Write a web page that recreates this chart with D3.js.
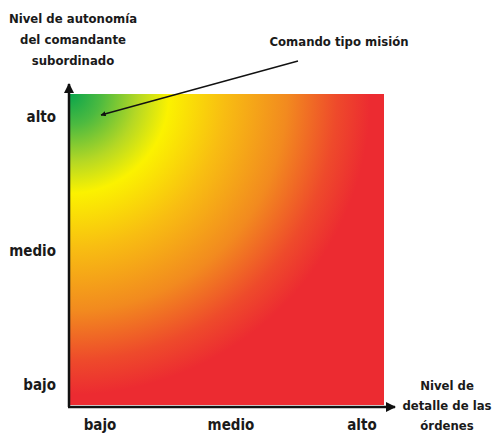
<!DOCTYPE html>
<html>
<head>
<meta charset="utf-8">
<script src="https://cdn.jsdelivr.net/npm/d3@7"></script>
<style>
  body { margin: 0; background: #fff; }
  text { font-family: "DejaVu Sans Condensed", "Liberation Sans Narrow", sans-serif; font-weight: bold; fill: #1a1a1a; }
</style>
</head>
<body>
<div id="chart"></div>
<script>
const xLevels = ["bajo", "medio", "alto"];
const yLevels = ["bajo", "medio", "alto"];
const yTitle = ["Nivel de autonomía", "del comandante", "subordinado"];
const xTitle = ["Nivel de", "detalle de las", "órdenes"];
const annotation = "Comando tipo misión";
// gradient colour stops, from the top-left corner outward
const gradStops = [
  { offset: 0, color: "#0aa54c" },
  { offset: 0.1, color: "#4cba40" },
  { offset: 0.22, color: "#b5d824" },
  { offset: 0.32, color: "#fbf200" },
  { offset: 0.5, color: "#f8bd12" },
  { offset: 0.7, color: "#f28a1f" },
  { offset: 0.86, color: "#ee4a2b" },
  { offset: 0.97, color: "#ec2b31" }
];

const W = 495, H = 433;
const plot = { left: 70, top: 94, right: 384, bottom: 405 };

const svg = d3.select("#chart").append("svg")
  .attr("width", W).attr("height", H);

const defs = svg.append("defs");
const grad = defs.append("radialGradient")
  .attr("id", "heat")
  .attr("gradientUnits", "userSpaceOnUse")
  .attr("cx", plot.left).attr("cy", plot.top)
  .attr("fx", plot.left).attr("fy", plot.top)
  .attr("r", 310);
grad.selectAll("stop").data(gradStops).enter().append("stop")
  .attr("offset", d => d.offset)
  .attr("stop-color", d => d.color);

defs.append("marker")
  .attr("id", "arr")
  .attr("viewBox", "0 0 10 10")
  .attr("refX", 9).attr("refY", 5)
  .attr("markerWidth", 4).attr("markerHeight", 4)
  .attr("orient", "auto")
  .append("path").attr("d", "M0,0L10,5L0,10z").attr("fill", "#111");

const x = d3.scalePoint().domain(xLevels).range([100, 362]);
const y = d3.scalePoint().domain(yLevels).range([385, 117]);

svg.append("rect")
  .attr("x", plot.left).attr("y", plot.top)
  .attr("width", plot.right - plot.left).attr("height", plot.bottom - plot.top)
  .attr("fill", "url(#heat)");

// axes
svg.append("line")
  .attr("x1", plot.left - 1).attr("y1", plot.bottom + 2)
  .attr("x2", plot.left - 1).attr("y2", 84)
  .attr("stroke", "#111").attr("stroke-width", 2.5)
  .attr("marker-end", "url(#arr)");
svg.append("line")
  .attr("x1", plot.left - 2).attr("y1", plot.bottom + 2)
  .attr("x2", 395).attr("y2", plot.bottom + 2)
  .attr("stroke", "#111").attr("stroke-width", 2.5)
  .attr("marker-end", "url(#arr)");

// tick labels
svg.selectAll("text.xl").data(xLevels).enter().append("text")
  .attr("class", "xl")
  .attr("x", d => x(d)).attr("y", 430)
  .attr("text-anchor", "middle")
  .style("font-size", "15px")
  .text(d => d);

svg.selectAll("text.yl").data(yLevels).enter().append("text")
  .attr("class", "yl")
  .attr("x", 56).attr("y", d => y(d))
  .attr("dy", "0.35em")
  .attr("text-anchor", "end")
  .style("font-size", "15px")
  .text(d => d);

// axis titles
svg.append("text")
  .attr("x", 73).attr("y", 23)
  .attr("text-anchor", "middle")
  .style("font-size", "13px")
  .selectAll("tspan").data(yTitle).enter().append("tspan")
  .attr("x", 73).attr("dy", (d, i) => i ? 21 : 0)
  .text(d => d);

svg.append("text")
  .attr("x", 447).attr("y", 390)
  .attr("text-anchor", "middle")
  .style("font-size", "13px")
  .selectAll("tspan").data(xTitle).enter().append("tspan")
  .attr("x", 447).attr("dy", (d, i) => i ? 20 : 0)
  .text(d => d);

// annotation
svg.append("text")
  .attr("x", 339).attr("y", 46)
  .attr("text-anchor", "middle")
  .style("font-size", "13px")
  .text(annotation);

svg.append("line")
  .attr("x1", 298).attr("y1", 61)
  .attr("x2", 101).attr("y2", 115)
  .attr("stroke", "#111").attr("stroke-width", 1.3)
  .attr("marker-end", "url(#arr)");
</script>
</body>
</html>
